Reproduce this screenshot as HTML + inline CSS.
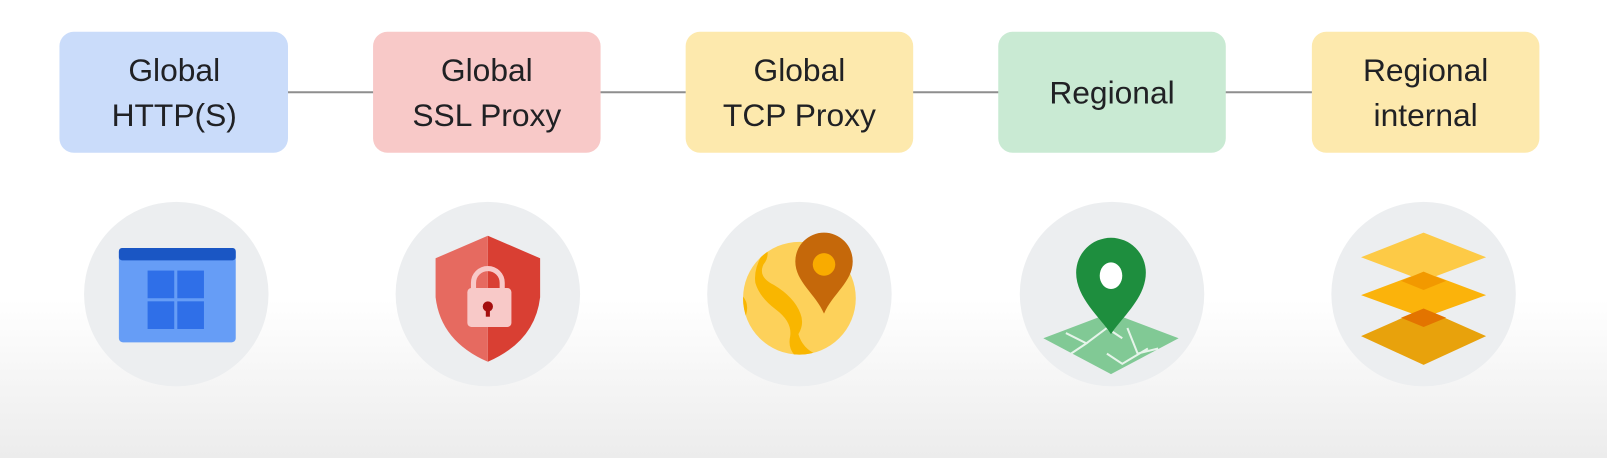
<!DOCTYPE html>
<html><head><style>
html,body{margin:0;padding:0}
body{width:1607px;height:458px;overflow:hidden;background:linear-gradient(#fff 0,#fff 300px,#ececec 458px);font-family:"Liberation Sans",Arial,sans-serif}
</style></head><body>
<svg width="1607" height="458" xmlns="http://www.w3.org/2000/svg" style="position:absolute;left:0;top:0">
<defs><clipPath id="gc"><circle cx="780" cy="291" r="55"/></clipPath></defs>
<g transform="scale(1.0249)">
<line x1="280" y1="90" x2="1282" y2="90" stroke="#8e8e8e" stroke-width="2"/>
<g font-family="Liberation Sans, Arial, sans-serif" font-size="31" fill="#202124" text-anchor="middle">
<rect x="58" y="31" width="223" height="118" rx="14" fill="#cadcfa"/>
<text x="170" y="79">Global</text><text x="170" y="123">HTTP(S)</text>
<rect x="364" y="31" width="222" height="118" rx="14" fill="#f8c9c8"/>
<text x="475" y="79">Global</text><text x="475" y="123">SSL Proxy</text>
<rect x="669" y="31" width="222" height="118" rx="14" fill="#fde9ad"/>
<text x="780" y="79">Global</text><text x="780" y="123">TCP Proxy</text>
<rect x="974" y="31" width="222" height="118" rx="14" fill="#c9ead3"/>
<text x="1085" y="101">Regional</text>
<rect x="1280" y="31" width="222" height="118" rx="14" fill="#fde9ad"/>
<text x="1391" y="79">Regional</text><text x="1391" y="123">internal</text>
</g>
<g fill="#eceef0">
<circle cx="172" cy="287" r="90"/><circle cx="476" cy="287" r="90"/><circle cx="780" cy="287" r="90"/><circle cx="1085" cy="287" r="90"/><circle cx="1389" cy="287" r="90"/>
</g>
<!-- window -->
<rect x="116" y="242" width="114" height="92" rx="4" fill="#669df6"/>
<rect x="116" y="242" width="114" height="12" rx="3" fill="#1a56c4"/>
<g fill="#2f6fe8"><rect x="144" y="264" width="26" height="27"/><rect x="173" y="264" width="26" height="27"/><rect x="144" y="294" width="26" height="27"/><rect x="173" y="294" width="26" height="27"/></g>
<!-- shield -->
<path d="M476 230 L527 252 L527 290 Q522 333 476 353 Z" fill="#d93f33"/>
<path d="M476 230 L425 252 L425 290 Q430 333 476 353 Z" fill="#e66a60"/>
<path d="M462 285 v-9 a14 14 0 0 1 28 0 v9" fill="none" stroke="#f8c9c8" stroke-width="5"/>
<rect x="456" y="281" width="43" height="38" rx="4" fill="#f8c9c8"/>
<circle cx="476" cy="299" r="5" fill="#a50e0e"/><rect x="474" y="300" width="4" height="9" fill="#a50e0e"/>
<!-- globe -->
<circle cx="780" cy="291" r="55" fill="#fdd15a"/>
<g clip-path="url(#gc)" fill="#f9b600">
<path d="M720 285 q12 8 8 22 q-6 14 10 22 q8 8 2 20 l-20 0z"/>
<path d="M745 236 q8 12 0 22 q-6 12 10 20 q20 12 26 28 q4 10 -2 20 q4 14 18 20 l-10 8 q-20 -8 -16 -26 q2 -14 -14 -26 q-16 -12 -20 -26 q-2 -14 8 -30z"/>
</g>
<path d="M804 227 a28 28 0 0 1 28 28 c0 20-20 32-28 51 c-8-19-28-31-28-51 a28 28 0 0 1 28-28z" fill="#c5680a"/>
<circle cx="804" cy="258" r="11" fill="#f9ab00"/>
<!-- map -->
<path d="M1084 305 L1150 330 L1084 365 L1018 330 Z" fill="#81c995"/>
<path d="M1040 325 l20 10 l-15 10 M1060 335 l20-15 l15 10 M1080 345 l15 10 l25-15 M1100 320 l10 25 l20-5" fill="none" stroke="#e6f4ea" stroke-width="2"/>
<path d="M1084 232 a34 34 0 0 1 34 34 c0 25-24 44-34 60 c-10-16-34-35-34-60 a34 34 0 0 1 34-34z" fill="#1e8e3e"/>
<ellipse cx="1084" cy="269" rx="11" ry="13" fill="#fff"/>
<!-- layers -->
<path d="M1389 301 L1450 328 L1389 356 L1328 328 Z" fill="#e8a20c"/>
<path d="M1389 265 L1450 288 L1389 310 L1328 288 Z" fill="#fbb30b"/>
<path d="M1389 227 L1450 251 L1389 274 L1328 251 Z" fill="#fdca46"/>
<path d="M1389 265 L1411 274 L1389 283 L1367 274 Z" fill="#f29900"/>
<path d="M1389 301 L1411 310 L1389 319 L1367 310 Z" fill="#e37400"/>
</g>
</svg>
</body></html>
